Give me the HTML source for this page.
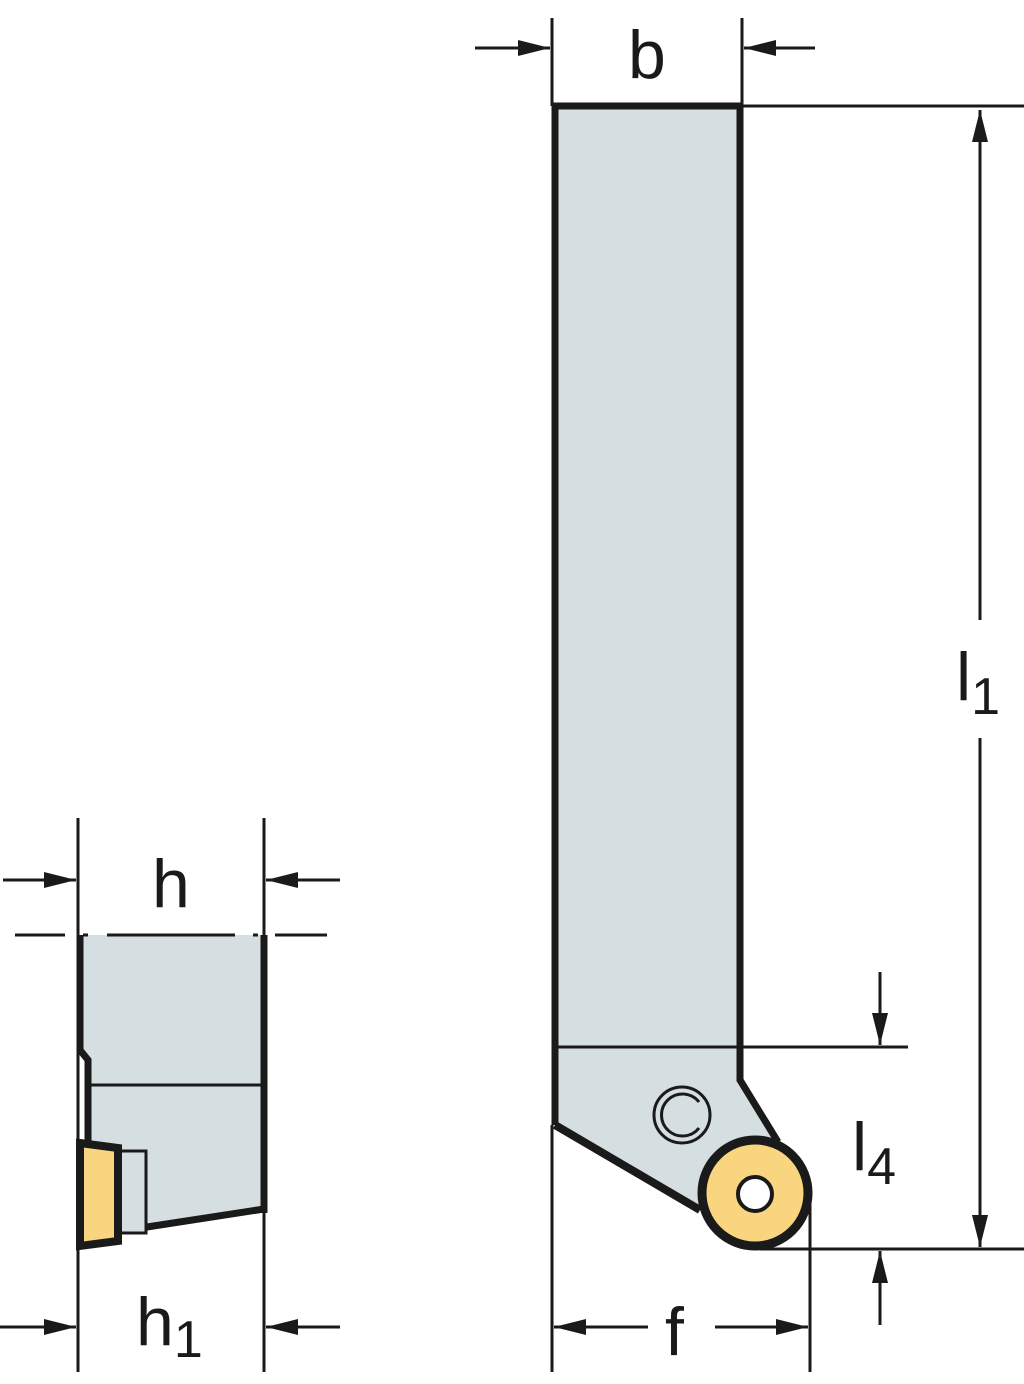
<!DOCTYPE html>
<html><head><meta charset="utf-8"><style>html,body{margin:0;padding:0;background:#fff}svg{display:block}</style></head>
<body>
<svg width="1024" height="1384" viewBox="0 0 1024 1384" xmlns="http://www.w3.org/2000/svg" font-family="Liberation Sans, sans-serif" fill="#1a1a1a">
<defs>
<marker id="a" markerWidth="32" markerHeight="16" refX="32" refY="8" orient="auto" markerUnits="userSpaceOnUse" viewBox="0 0 32 16"><path d="M0,0 L32,8 L0,16 z" fill="#1a1a1a"/></marker>
</defs>
<g stroke="#1a1a1a" stroke-width="3" fill="none">
<path d="M555,106 L740,106 L740,1080 L778,1142 L712,1212 L555,1125 Z" fill="#d5dee0" stroke="none"/>
<path d="M555,1125 L555,106 L740,106 L740,1080 L778,1142" stroke-width="7"/>
<path d="M555,1125 L700,1210" stroke-width="8"/>
<line x1="555" y1="1047" x2="908" y2="1047"/>
<circle cx="755" cy="1193" r="53" fill="#f8d57e" stroke-width="9"/>
<circle cx="755" cy="1194" r="17" fill="#fff" stroke-width="4"/>
<circle cx="682" cy="1115" r="28" stroke-width="3"/>
<path d="M699,1102 A21,21 0 1 0 699,1128" stroke-width="3"/>
<line x1="552" y1="18" x2="552" y2="106"/>
<line x1="742" y1="18" x2="742" y2="106"/>
<line x1="740" y1="106" x2="1024" y2="106"/>
<line x1="475" y1="48" x2="550" y2="48" marker-end="url(#a)"/>
<line x1="815" y1="48" x2="744" y2="48" marker-end="url(#a)"/>
<line x1="980" y1="620" x2="980" y2="110" marker-end="url(#a)"/>
<line x1="980" y1="738" x2="980" y2="1247" marker-end="url(#a)"/>
<line x1="760" y1="1249" x2="1024" y2="1249"/>
<line x1="880" y1="972" x2="880" y2="1045" marker-end="url(#a)"/>
<line x1="880" y1="1325" x2="880" y2="1251" marker-end="url(#a)"/>
<line x1="552" y1="1125" x2="552" y2="1372"/>
<line x1="810" y1="1195" x2="810" y2="1372"/>
<line x1="648" y1="1327" x2="554" y2="1327" marker-end="url(#a)"/>
<line x1="715" y1="1327" x2="808" y2="1327" marker-end="url(#a)"/>
<path d="M80,935 L264,935 L264,1210 L147,1228 L120,1145 L88,1140 L88,1060 L80,1050 Z" fill="#d5dee0" stroke="none"/>
<path d="M80,935 L80,1050 L88,1060 L88,1142" stroke-width="7"/>
<line x1="264" y1="935" x2="264" y2="1213" stroke-width="7"/>
<path d="M264,1209 L147,1227" stroke-width="7"/>
<line x1="90" y1="1085" x2="262" y2="1085"/>
<rect x="120" y="1151" width="26" height="82" fill="#d5dee0" stroke-width="3"/>
<path d="M80,1143 L118,1148 L118,1241 L80,1246 Z" fill="#f8d57e" stroke-width="8"/>
<line x1="78" y1="818" x2="78" y2="1372"/>
<line x1="264" y1="818" x2="264" y2="1372"/>
<line x1="3" y1="880" x2="76" y2="880" marker-end="url(#a)"/>
<line x1="340" y1="880" x2="266" y2="880" marker-end="url(#a)"/>
<line x1="0" y1="1327" x2="76" y2="1327" marker-end="url(#a)"/>
<line x1="340" y1="1327" x2="266" y2="1327" marker-end="url(#a)"/>
<path d="M15,935 H65 M83,935 H88 M107,935 H235 M253,935 H258 M275,935 H327"/>
</g>
<g font-size="68">
<text x="628" y="78">b</text>
<text x="152" y="907">h</text>
<text x="136" y="1345">h<tspan font-size="52" dy="12">1</tspan></text>
<text x="665" y="1355">f</text>
<text x="956" y="700">l<tspan font-size="52" dy="14">1</tspan></text>
<text x="852" y="1170">l<tspan font-size="52" dy="14">4</tspan></text>
</g>
</svg>
</body></html>
